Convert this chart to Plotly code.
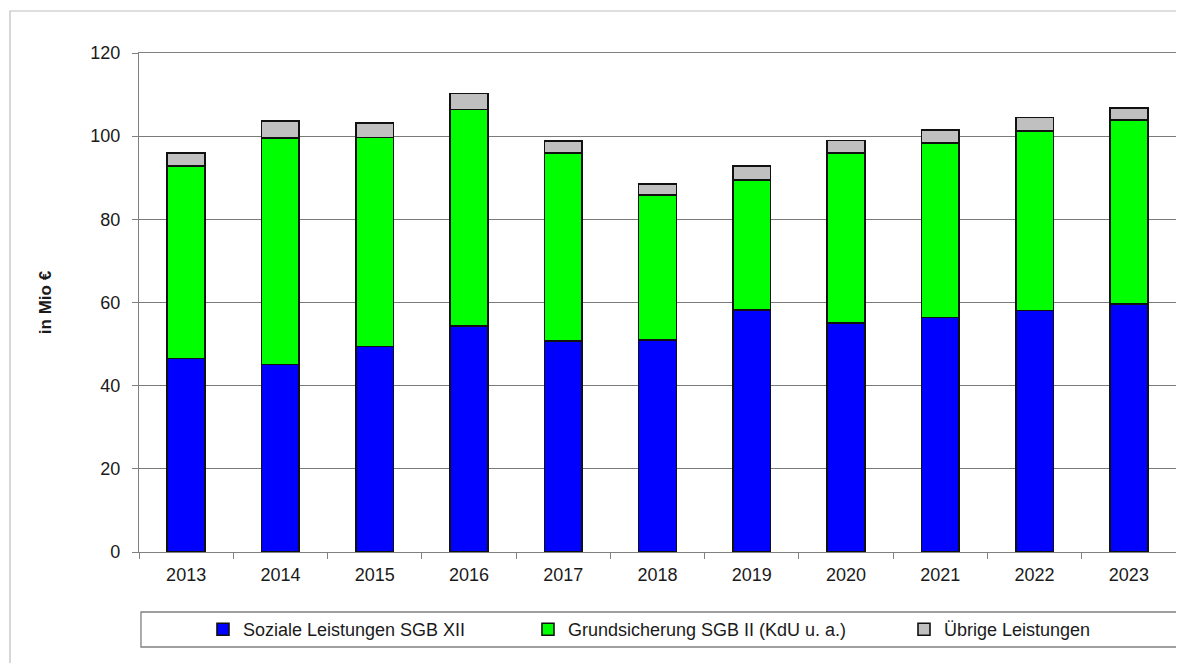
import plotly.graph_objects as go

years = ["2013", "2014", "2015", "2016", "2017", "2018", "2019", "2020", "2021", "2022", "2023"]
soziale = [46.5, 45.1, 49.4, 54.3, 50.8, 51.0, 58.2, 55.0, 56.4, 58.1, 59.6]
grundsicherung = [46.3, 54.4, 50.3, 52.1, 45.1, 34.8, 31.3, 40.9, 41.9, 43.2, 44.3]
uebrige = [3.1, 4.2, 3.4, 3.9, 2.9, 2.7, 3.3, 3.1, 3.2, 3.2, 2.9]

names = ["Soziale Leistungen SGB XII", "Grundsicherung SGB II (KdU u. a.)", "Übrige Leistungen"]
colors = ["#0000FF", "#00FF00", "#C0C0C0"]
legends = ["legend", "legend2", "legend3"]

FONT = "Liberation Sans, Arial, sans-serif"
TXT = "#1a1a1a"

fig = go.Figure()
for vals, name, col, lg in zip([soziale, grundsicherung, uebrige], names, colors, legends):
    fig.add_trace(go.Bar(
        x=years, y=vals, name=name, legend=lg, showlegend=True,
        marker=dict(color=col, line=dict(color="#111111", width=1.6)),
        width=0.4,
    ))

leg_common = dict(orientation="h", yanchor="middle", xanchor="left", y=-0.1553,
                  bgcolor="rgba(0,0,0,0)", borderwidth=0,
                  font=dict(family=FONT, size=18, color=TXT), itemwidth=30)

fig.update_layout(
    width=1176, height=655,
    margin=dict(l=131, r=8, t=45, b=111, autoexpand=False),
    paper_bgcolor="white", plot_bgcolor="white",
    barmode="stack", bargap=0.6, showlegend=True,
    font=dict(family=FONT, size=18, color=TXT),
    legend=dict(x=0.0617, **leg_common),
    legend2=dict(x=0.3751, **leg_common),
    legend3=dict(x=0.7377, **leg_common),
    xaxis=dict(
        type="category", showline=True, linecolor="#808080", linewidth=1.3, mirror=True,
        ticks="outside", tickson="boundaries", ticklen=6, tickcolor="#808080",
        ticklabelstandoff=6,
        tickfont=dict(family=FONT, size=18, color=TXT), showgrid=False,
    ),
    yaxis=dict(
        range=[0, 120], dtick=20, showline=True, linecolor="#808080", linewidth=1.3, mirror=True,
        ticks="outside", ticklen=6, tickcolor="#808080", ticklabelstandoff=8,
        showgrid=True, gridcolor="#7a7a7a", gridwidth=1.2, zeroline=False,
        tickfont=dict(family=FONT, size=18, color=TXT),
        title=dict(text="<b>in Mio €</b>", font=dict(family=FONT, size=17, color=TXT), standoff=34),
    ),
    shapes=[
        dict(type="rect", xref="paper", yref="paper", x0=-0.1244, x1=1.03, y0=-0.26, y1=1.0842,
             line=dict(color="#bdbdbd", width=1.2), fillcolor="rgba(0,0,0,0)", layer="below"),
        dict(type="rect", xref="paper", yref="paper", x0=0.0019, x1=1.0068, y0=-0.1904, y1=-0.1202,
             line=dict(color="#808080", width=1.3), fillcolor="rgba(0,0,0,0)", layer="below"),
    ],
)

fig.write_html("out.html")
